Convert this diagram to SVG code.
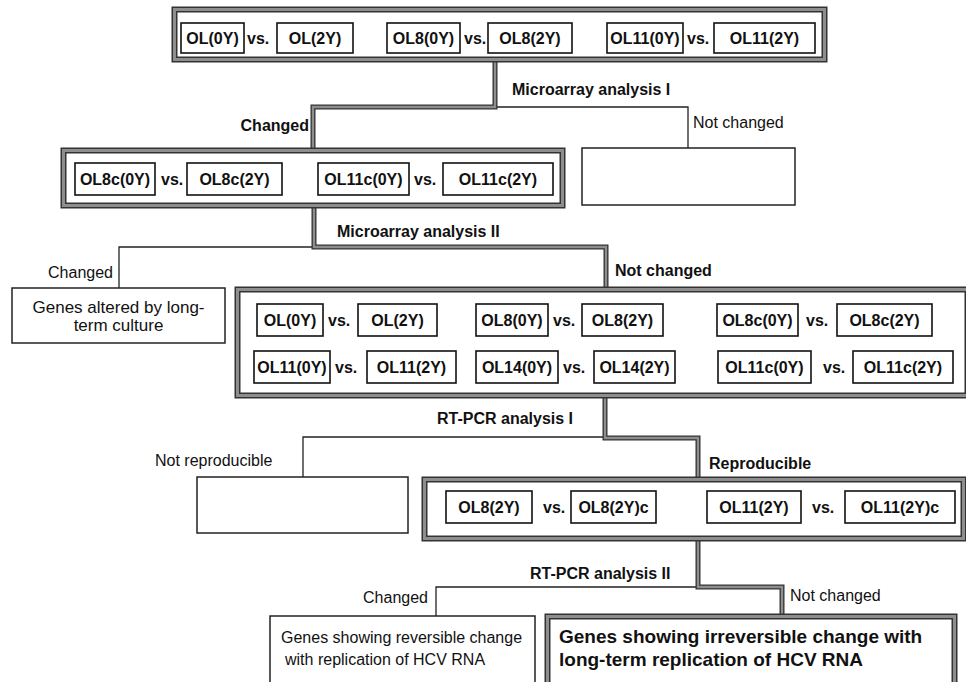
<svg xmlns="http://www.w3.org/2000/svg" width="966" height="682" viewBox="0 0 966 682">
<style>
text{font-family:"Liberation Sans",Arial,Helvetica,sans-serif;fill:#111;font-size:16px}
.b{font-weight:700}
.c{text-anchor:middle}
.e{text-anchor:end}
.ib{fill:#fff;stroke:#111;stroke-width:1.6}
.tb{fill:#fff;stroke:#222;stroke-width:1.5}
.go{fill:none;stroke:#333;stroke-width:6}
.gi{fill:none;stroke:#8e8e8e;stroke-width:3}
.lo{fill:none;stroke:#333;stroke-width:5;stroke-linejoin:miter}
.li{fill:none;stroke:#8e8e8e;stroke-width:2.4;stroke-linejoin:miter}
.th{fill:none;stroke:#222;stroke-width:1.3}
</style>
<rect width="966" height="682" fill="#fff"/>
<g id="connectors">
<polyline class="th" points="495,107 688,107 688,148"/>
<polyline class="th" points="314,247 119,247 119,288"/>
<polyline class="th" points="605,437 303,437 303,477"/>
<polyline class="th" points="698,587 436,587 436,616"/>
<polyline class="lo" points="495,62 495,107 313,107 313,148"/>
<polyline class="li" points="495,62 495,107 313,107 313,148"/>
<polyline class="lo" points="314,208 314,247 606,247 606,287"/>
<polyline class="li" points="314,208 314,247 606,247 606,287"/>
<polyline class="lo" points="605,398 605,438 698,438 698,477"/>
<polyline class="li" points="605,398 605,438 698,438 698,477"/>
<polyline class="lo" points="698,541 698,587 782,587 782,614"/>
<polyline class="li" points="698,541 698,587 782,587 782,614"/>
<text class="b" x="512" y="95">Microarray analysis I</text>
<text class="b e" x="309" y="131">Changed</text>
<text x="693" y="128">Not changed</text>
<text class="b" x="337" y="237">Microarray analysis II</text>
<text class="e" x="113" y="278">Changed</text>
<text class="b" x="615" y="276">Not changed</text>
<text class="b" x="437" y="424">RT-PCR analysis I</text>
<text x="155" y="466">Not reproducible</text>
<text class="b" x="709" y="469">Reproducible</text>
<text class="b" x="530" y="579">RT-PCR analysis II</text>
<text class="e" x="428" y="603">Changed</text>
<text x="790" y="601">Not changed</text>
</g>
<g id="top-samples">
<rect class="go" x="174.5" y="9.5" width="650" height="50"/>
<rect class="gi" x="174.5" y="9.5" width="650" height="50"/>
<rect class="ib" x="181" y="23" width="63" height="30"/><text class="b c" x="212.5" y="44">OL(0Y)</text>
<text class="b" x="247" y="44">vs.</text>
<rect class="ib" x="277" y="23" width="76" height="30"/><text class="b c" x="315" y="44">OL(2Y)</text>
<rect class="ib" x="387" y="23" width="73" height="30"/><text class="b c" x="423.5" y="44">OL8(0Y)</text>
<text class="b" x="464" y="44">vs.</text>
<rect class="ib" x="488" y="23" width="84" height="30"/><text class="b c" x="530" y="44">OL8(2Y)</text>
<rect class="ib" x="607" y="23" width="76" height="30"/><text class="b c" x="645" y="44">OL11(0Y)</text>
<text class="b" x="687" y="44">vs.</text>
<rect class="ib" x="714" y="23" width="101" height="30"/><text class="b c" x="764.5" y="44">OL11(2Y)</text>
</g>
<g id="cured-samples">
<rect class="go" x="63.5" y="150.5" width="499" height="55"/>
<rect class="gi" x="63.5" y="150.5" width="499" height="55"/>
<rect class="ib" x="75" y="163" width="80" height="32"/><text class="b c" x="115" y="185">OL8c(0Y)</text>
<text class="b" x="161" y="185">vs.</text>
<rect class="ib" x="187" y="163" width="95" height="32"/><text class="b c" x="234.5" y="185">OL8c(2Y)</text>
<rect class="ib" x="318" y="163" width="91" height="32"/><text class="b c" x="363.5" y="185">OL11c(0Y)</text>
<text class="b" x="414" y="185">vs.</text>
<rect class="ib" x="443" y="163" width="110" height="32"/><text class="b c" x="498" y="185">OL11c(2Y)</text>
</g>
<g id="not-changed-1">
<rect class="tb" x="582" y="148" width="213" height="57"/>
</g>
<g id="genes-culture">
<rect class="tb" x="12" y="288" width="213" height="55"/>
<text class="c" x="118.5" y="313" style="font-size:17px">Genes altered by long-</text>
<text class="c" x="118.5" y="331" style="font-size:17px">term culture</text>
</g>
<g id="all-samples">
<rect class="go" x="237.5" y="289.5" width="730" height="106"/>
<rect class="gi" x="237.5" y="289.5" width="730" height="106"/>
<rect class="ib" x="257" y="304" width="66" height="32"/><text class="b c" x="290" y="326">OL(0Y)</text>
<text class="b" x="328" y="326">vs.</text>
<rect class="ib" x="358" y="304" width="79" height="32"/><text class="b c" x="397.5" y="326">OL(2Y)</text>
<rect class="ib" x="476" y="304" width="72" height="32"/><text class="b c" x="512" y="326">OL8(0Y)</text>
<text class="b" x="553" y="326">vs.</text>
<rect class="ib" x="582" y="304" width="81" height="32"/><text class="b c" x="622.5" y="326">OL8(2Y)</text>
<rect class="ib" x="717" y="304" width="81" height="32"/><text class="b c" x="757.5" y="326">OL8c(0Y)</text>
<text class="b" x="806" y="326">vs.</text>
<rect class="ib" x="837" y="304" width="95" height="32"/><text class="b c" x="884.5" y="326">OL8c(2Y)</text>
<rect class="ib" x="254" y="351" width="76" height="32"/><text class="b c" x="292" y="373">OL11(0Y)</text>
<text class="b" x="335" y="373">vs.</text>
<rect class="ib" x="367" y="351" width="89" height="32"/><text class="b c" x="411.5" y="373">OL11(2Y)</text>
<rect class="ib" x="476" y="351" width="82" height="32"/><text class="b c" x="517" y="373">OL14(0Y)</text>
<text class="b" x="563" y="373">vs.</text>
<rect class="ib" x="594" y="351" width="81" height="32"/><text class="b c" x="634.5" y="373">OL14(2Y)</text>
<rect class="ib" x="718" y="351" width="93" height="32"/><text class="b c" x="764.5" y="373">OL11c(0Y)</text>
<text class="b" x="823" y="373">vs.</text>
<rect class="ib" x="853" y="351" width="100" height="32"/><text class="b c" x="903" y="373">OL11c(2Y)</text>
</g>
<g id="not-reproducible">
<rect class="tb" x="197" y="477" width="211" height="56"/>
</g>
<g id="reproducible-samples">
<rect class="go" x="424.5" y="479.5" width="539" height="59"/>
<rect class="gi" x="424.5" y="479.5" width="539" height="59"/>
<rect class="ib" x="446" y="491" width="86" height="32"/><text class="b c" x="489" y="513">OL8(2Y)</text>
<text class="b" x="543" y="513">vs.</text>
<rect class="ib" x="571" y="491" width="85" height="32"/><text class="b c" x="613.5" y="513">OL8(2Y)c</text>
<rect class="ib" x="707" y="491" width="94" height="32"/><text class="b c" x="754" y="513">OL11(2Y)</text>
<text class="b" x="812" y="513">vs.</text>
<rect class="ib" x="845" y="491" width="110" height="32"/><text class="b c" x="900" y="513">OL11(2Y)c</text>
</g>
<g id="reversible">
<rect class="tb" x="270" y="616" width="265" height="80"/>
<text x="281" y="643">Genes showing reversible change</text>
<text x="285" y="665">with replication of HCV RNA</text>
</g>
<g id="irreversible">
<rect class="go" x="547.5" y="616.5" width="407" height="80"/>
<rect class="gi" x="547.5" y="616.5" width="407" height="80"/>
<text class="b" x="559" y="643" style="font-size:19px">Genes showing irreversible change with</text>
<text class="b" x="559" y="666" style="font-size:19px">long-term replication of HCV RNA</text>
</g>
</svg>
